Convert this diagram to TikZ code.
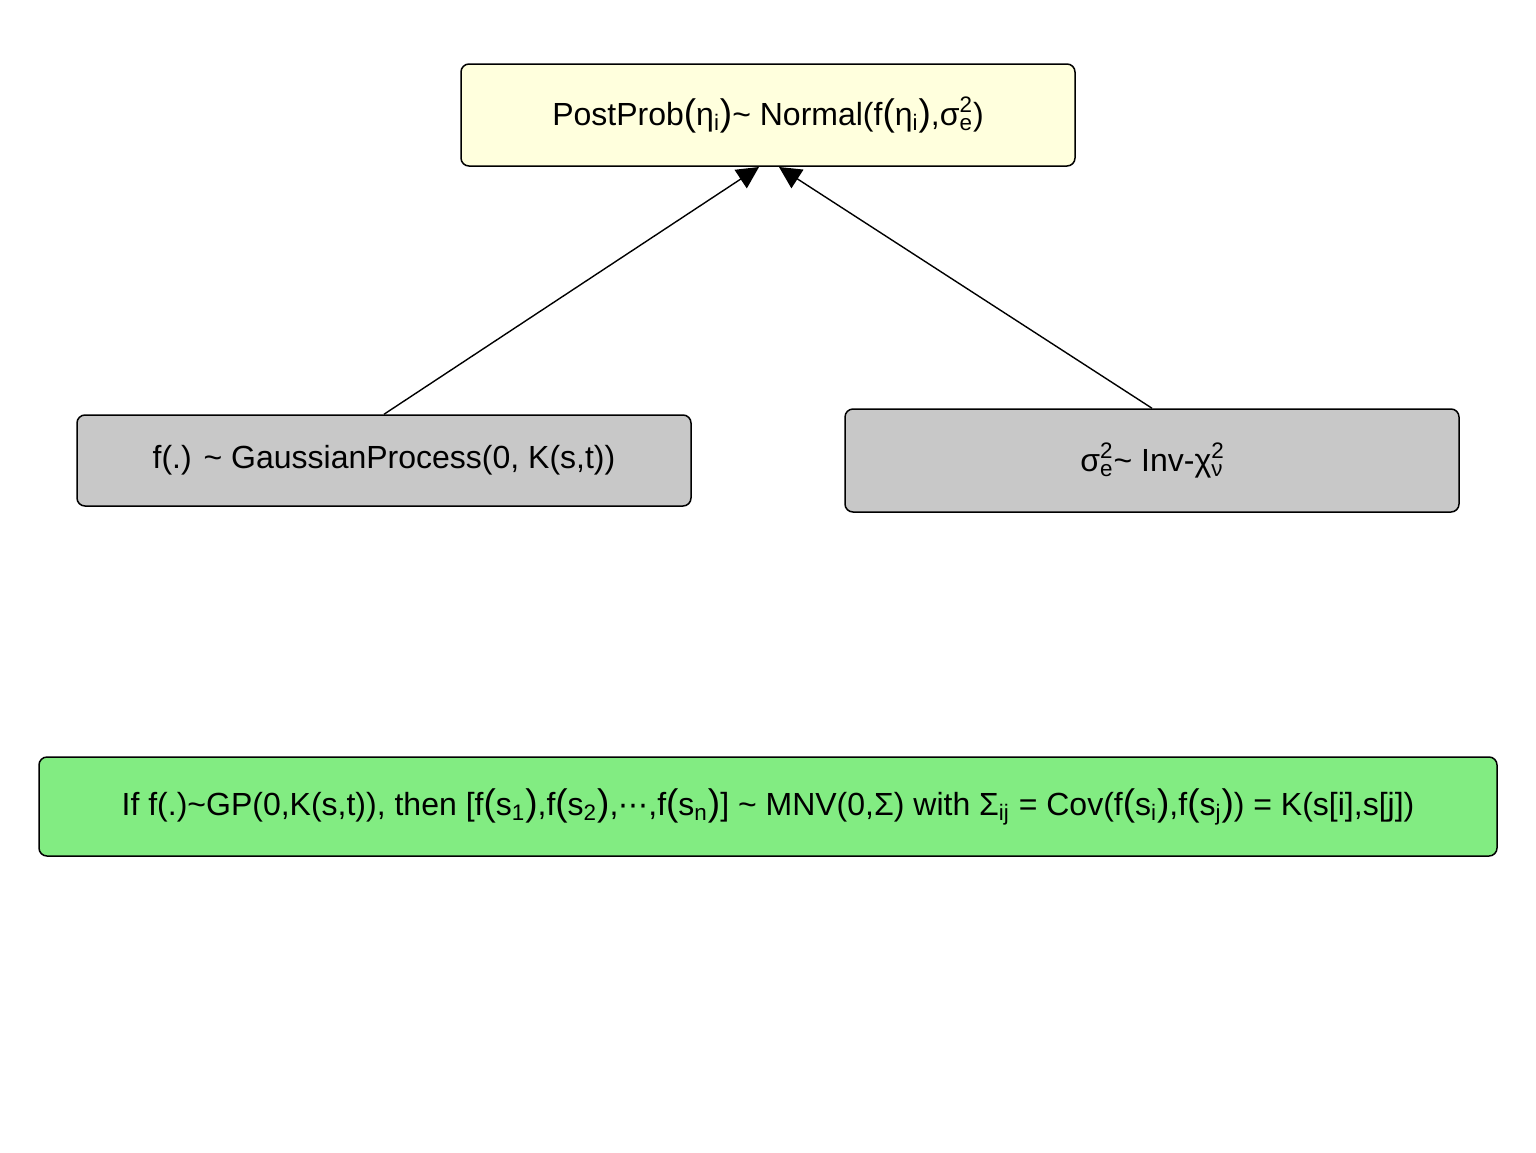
\documentclass[tikz,border=0pt]{standalone}
\usepackage{fontspec}
\setmainfont{Liberation Sans}
\newfontfamily\symfont{DejaVu Sans}
\usetikzlibrary{arrows.meta}
\definecolor{postyellow}{HTML}{FFFFDD}
\definecolor{priorgray}{HTML}{C8C8C8}
\definecolor{notegreen}{HTML}{82EC82}
\newcommand{\supsub}[2]{\rlap{\textsuperscript{#1}}\textsubscript{#2}}
\newcommand{\bpar}[1]{{\fontsize{18.5}{19}\selectfont(}#1{\fontsize{18.5}{19}\selectfont)}}

\begin{document}
\begin{tikzpicture}[x=0.5pt, y=-0.5pt,
   every node/.style={font=\fontsize{16}{19}\selectfont},
   box/.style={draw, rounded corners=4pt, line width=0.75pt, inner sep=0pt},
   link/.style={-{Triangle[length=11pt,width=11pt]}, line width=0.7pt}]
   \useasboundingbox (0,0) rectangle (1536,1152);
   \node[box, fill=postyellow, minimum width=307pt, minimum height=51pt] (post) at (768,115)
      {PostProb\bpar{η\textsubscript{i}}\textasciitilde{} Normal(f\bpar{η\textsubscript{i}},σ\supsub{2}{e})};
   \node[box, fill=priorgray, minimum width=307pt, minimum height=45.5pt] (gp) at (384,460.5)
      {f(.) \textasciitilde{} GaussianProcess(0, K(s,t))};
   \node[box, fill=priorgray, minimum width=307pt, minimum height=51.5pt] (chi) at (1152,460.5)
      {σ\supsub{2}{e}\textasciitilde{} Inv-χ\supsub{2}{ν}};
   \node[box, fill=notegreen, minimum width=729pt, minimum height=49.5pt] (note) at (768,806.5)
      {If f(.)\textasciitilde GP(0,K(s,t)), then [f\bpar{s\textsubscript{1}},f\bpar{s\textsubscript{2}},{\symfont\fontsize{15}{19}\selectfont ⋯},f\bpar{s\textsubscript{n}}] \textasciitilde{} MNV(0,Σ) with Σ\textsubscript{ij} = Cov(f\bpar{s\textsubscript{i}},f\bpar{s\textsubscript{j}}) = K(s[i],s[j])};
   \coordinate (tipL) at (759,167);
   \coordinate (tipR) at (779,167);
   \draw[link] (gp.north) -- (tipL);
   \draw[link] (chi.north) -- (tipR);
\end{tikzpicture}
\end{document}
